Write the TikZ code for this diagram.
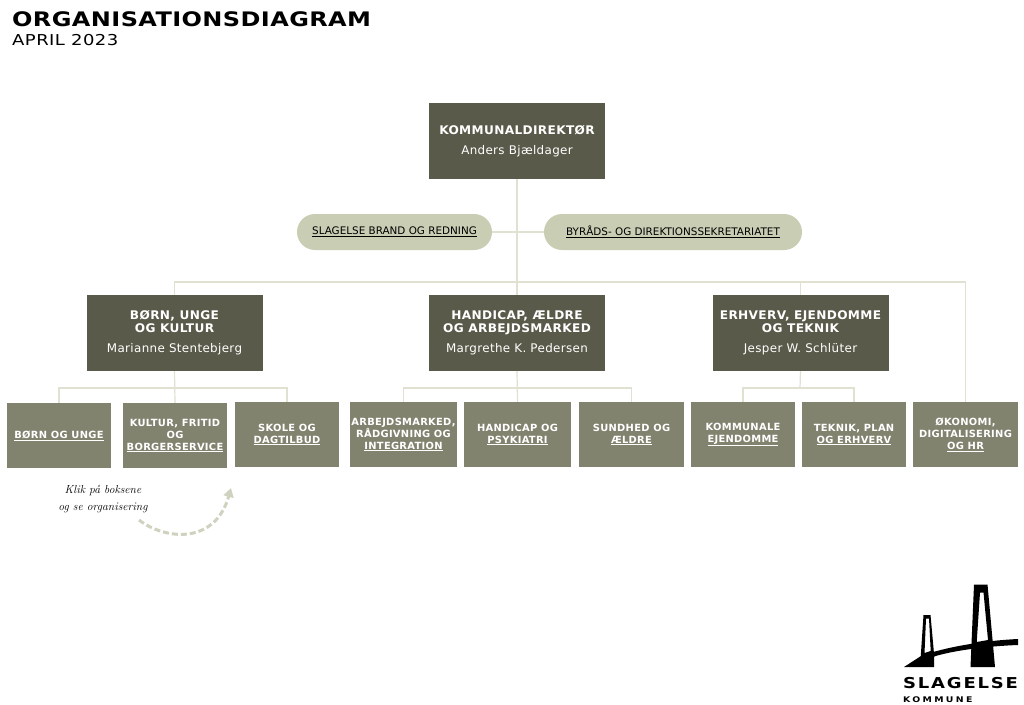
\documentclass[tikz,border=0pt]{standalone}
\usepackage{fontspec}
\setsansfont{DejaVu Sans}
\newfontfamily\titlefont[FakeStretch=1.2,LetterSpace=2]{DejaVu Sans}
\newfontfamily\datefont[FakeStretch=1.2,LetterSpace=3]{DejaVu Sans}
\newfontfamily\headfont[LetterSpace=3]{DejaVu Sans}
\newfontfamily\headboldfont[FakeStretch=1.02,LetterSpace=3]{DejaVu Sans}
\newfontfamily\logofont[FakeStretch=1.2,LetterSpace=12]{DejaVu Sans}
\newfontfamily\logosubfont[FakeStretch=1.2,LetterSpace=30]{DejaVu Sans}
\newcommand{\headline}[1]{{\headboldfont\bfseries #1}}
\usetikzlibrary{positioning, arrows.meta}

\begin{document}
\begin{tikzpicture}[x=1pt,y=-1pt,every node/.style={font=\sffamily}]

    % Colors
    \definecolor{leveltop}{RGB}{90,90,74}
    \definecolor{levelsub}{RGB}{130,131,111}
    \definecolor{levelpill}{RGB}{201,205,180}
    \definecolor{levelline}{RGB}{224,225,208}
    \definecolor{levelarrow}{RGB}{207,210,190}

    \tikzset{
      topbox/.style={fill=leveltop,text=white,minimum width=176pt,minimum height=76pt,
        align=center,inner sep=0pt,font=\headfont\fontsize{11.9}{13}\selectfont},
      subbox/.style={fill=levelsub,text=white,minimum width=104pt,minimum height=65pt,
        align=center,inner sep=0pt,font=\headfont\fontsize{9.9}{12}\selectfont\bfseries},
      pill/.style={fill=levelpill,rounded corners=18pt,minimum height=36pt,inner sep=0pt,
        font=\sffamily\fontsize{10.4}{12}\selectfont},
      connect/.style={draw=levelline,line width=1.2pt},
      title/.style={anchor=west,inner sep=0pt}
    }

    \useasboundingbox (0,0) rectangle (1024,704);
    \fill[white] (0,0) rectangle (1024,704);

    % ======================
    % Title
    % ======================
    \node[title,font=\titlefont\fontsize{20}{22}\selectfont\bfseries] (heading) at (12,19) {ORGANISATIONSDIAGRAM};
    \node[title,font=\datefont\fontsize{15}{17}\selectfont] (date) at (12,40) {APRIL 2023};

    % ======================
    % Direktion
    % ======================
    \node[topbox] (direktor) at (517,141) {\headline{KOMMUNALDIREKTØR}\\[7pt]Anders Bjældager};

    % Staff
    \node[pill,minimum width=195pt] (brand) at (394.5,232) {\underline{SLAGELSE BRAND OG REDNING}};
    \node[pill,minimum width=258pt] (sekretariat) at (673,232) {\underline{BYRÅDS- OG DIREKTIONSSEKRETARIATET}};

    % Departments
    \node[topbox] (boern) at (174.5,333) {\headline{BØRN, UNGE}\\\headline{OG KULTUR}\\[7pt]Marianne Stentebjerg};
    \node[topbox] (handicap) at (517,333) {\headline{HANDICAP, ÆLDRE}\\\headline{OG ARBEJDSMARKED}\\[7pt]Margrethe K. Pedersen};
    \node[topbox] (erhverv) at (800.5,333) {\headline{ERHVERV, EJENDOMME}\\\headline{OG TEKNIK}\\[7pt]Jesper W. Schlüter};

    % ======================
    % Level 3
    % ======================
    \node[subbox] (unge) at (59,435.5) {\underline{BØRN OG UNGE}};
    \node[subbox] (kultur) at (175,435.5) {KULTUR, FRITID\\OG\\\underline{BORGERSERVICE}};
    \node[subbox] (skole) at (287,434.5) {SKOLE OG\\\underline{DAGTILBUD}};
    \node[subbox,minimum width=107pt] (arbejd) at (403.5,434.5) {ARBEJDSMARKED,\\RÅDGIVNING OG\\\underline{INTEGRATION}};
    \node[subbox,minimum width=107pt] (psyk) at (517.5,434.5) {HANDICAP OG\\\underline{PSYKIATRI}};
    \node[subbox,minimum width=105pt] (sundhed) at (631.5,434.5) {SUNDHED OG\\\underline{ÆLDRE}};
    \node[subbox] (ejendom) at (743,434.5) {KOMMUNALE\\\underline{EJENDOMME}};
    \node[subbox] (teknik) at (854,434.5) {TEKNIK, PLAN\\\underline{OG ERHVERV}};
    \node[subbox,minimum width=105pt] (oekonomi) at (965.5,434.5) {ØKONOMI,\\DIGITALISERING\\\underline{OG HR}};

    % ======================
    % Connectors
    % ======================
    \coordinate (bus) at (517,282);
    \coordinate (busboern) at (175,388);
    \coordinate (bushandicap) at (518,388);
    \coordinate (buserhverv) at (800,388);

    \draw[connect] (direktor.south) -- (handicap.north);
    \draw[connect] (brand.east) -- (sekretariat.west);
    \draw[connect] (boern.north) |- (bus);
    \draw[connect] (erhverv.north) |- (bus);
    \draw[connect] (oekonomi.north) |- (bus);

    \draw[connect] (boern.south) -- (kultur.north);
    \draw[connect] (unge.north) |- (busboern);
    \draw[connect] (skole.north) |- (busboern);

    \draw[connect] (handicap.south) -- (psyk.north);
    \draw[connect] (arbejd.north) |- (bushandicap);
    \draw[connect] (sundhed.north) |- (bushandicap);

    \draw[connect] (erhverv.south) -- (buserhverv);
    \draw[connect] (ejendom.north) |- (buserhverv);
    \draw[connect] (teknik.north) |- (buserhverv);

    % ======================
    % Note
    % ======================
    \node[align=center,inner sep=0pt,font=\rmfamily\itshape\fontsize{11.6}{17}\selectfont] (note) at (103,499) {Klik på boksene\\og se organisering};
    \coordinate (notestart) at (139,520);
    \coordinate (noteend) at (231,488);
    \draw[levelarrow,line width=3pt,dash pattern=on 6pt off 3pt,-{Triangle[length=9pt,width=10pt]}]
      (notestart) .. controls (165,540) and (215,545) .. (noteend);

    % ======================
    % Logo
    % ======================
    % large tower
    \fill[black,even odd rule] (974,584.5) -- (987.5,584.5) -- (995,667) -- (970.5,667) -- cycle
      (980,592.5) -- (983.5,592.5) -- (988,640) -- (976.7,642) -- cycle;
    % small tower
    \fill[black,even odd rule] (923.5,615) -- (930.5,615) -- (934.3,657) -- (920.7,657) -- cycle
      (926,618.5) -- (929,618.5) -- (930.7,651) -- (924.5,653) -- cycle;
    % deck
    \fill[black] (904,667) -- (921,656) .. controls (945,647) and (985,640.5) .. (1018,639)
      -- (1018,645) .. controls (990,646) and (955,650) .. (934,656.5) -- (934,667) -- cycle;
    \node[anchor=west,inner sep=0pt,font=\logofont\fontsize{15}{17}\selectfont\bfseries] (logoname) at (903,683) {SLAGELSE};
    \node[anchor=west,inner sep=0pt,font=\logosubfont\fontsize{7.8}{9}\selectfont\bfseries] (logosub) at (903,699.5) {KOMMUNE};

\end{tikzpicture}
\end{document}
